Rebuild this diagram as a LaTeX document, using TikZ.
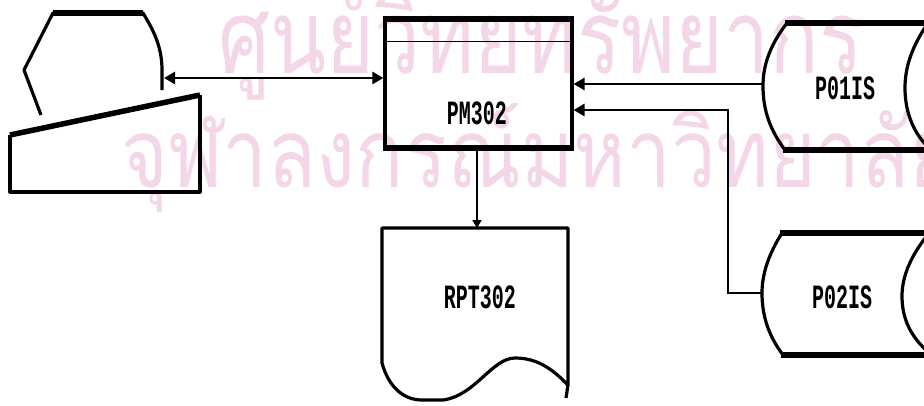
\documentclass[tikz,border=0pt]{standalone}
\usepackage{fontspec}
\newfontfamily\thaifont[Script=Thai]{Loma}
\newfontfamily\dotfont{Liberation Mono}
\usetikzlibrary{arrows.meta}
\definecolor{wm}{RGB}{243,214,232}
\tikzset{
  conn/.style={line width=2.8pt},
  thinconn/.style={line width=1.8pt},
  tip/.tip={Triangle[length=11pt,width=12pt]},
  arr/.style={-tip},
  arrsmall/.style={-{Triangle[length=8pt,width=9pt]}},
  shp/.style={line width=3.2pt, line join=round},
  heavy/.style={line width=5.5pt},
  lbl/.style={font=\dotfont\bfseries\fontsize{20}{20}\selectfont, inner sep=0},
  wmtext/.style={text=wm, inner sep=0, anchor=base west}
}
\begin{document}
\begin{tikzpicture}[x=1pt,y=-1pt]
\useasboundingbox (0,0) rectangle (924,405);
\clip (0,0) rectangle (924,405);
% watermark
\node[wmtext] (wm1) at (218,73) {\scalebox{1}[1.25]{\resizebox{645pt}{!}{\thaifont ศูนย์วิทยทรัพยากร}}};
\node[wmtext] (wm2) at (121,187) {\scalebox{1}[1.2]{\resizebox{835pt}{!}{\thaifont จุฬาลงกรณ์มหาวิทยาลัย}}};
% terminal display
\draw[shp] (41,115) -- (24,70) -- (53,13) -- (143,13) .. controls (152,28) and (162,45) .. (162,70) -- (162,90);
\draw[heavy] (53,13) -- (143,13);
% keyboard
\draw[shp] (200,95) -- (200,192) -- (10,192) -- (10,135);
\draw[heavy] (10,135) -- (200,95);
% program box
\node[draw, line width=3.2pt, minimum width=187pt, minimum height=127pt, inner sep=0] (pm) at (478.5,83.5) {};
\draw[heavy] (pm.north west) -- (pm.north east);
\draw[heavy] (pm.south west) -- (pm.south east);
\draw[line width=1.8pt] (pm.north west) ++(0,23) -- ++(187,0);
\node[lbl] (pmtext) at (477,113) {\scalebox{1}[1.7]{PM302}};
% report document
\draw[shp] (568,385) -- (568,228) -- (382,228) -- (382,363) .. controls (388,385) and (402,400) .. (422,400) -- (443,400) .. controls (475,396) and (492,358) .. (515,358) .. controls (540,358) and (555,372) .. (568,385) -- (566,398);
\coordinate (rpttop) at (477,228);
\node[lbl] (rpt) at (480,297) {\scalebox{1}[1.7]{RPT302}};
% database P01IS
\draw[shp] (787,23) .. controls (770,45) and (763,65) .. (763,86) .. controls (763,110) and (770,130) .. (785,150);
\draw[heavy] (785,23) -- (930,23);
\draw[heavy] (783,150) -- (930,150);
\draw[shp] (926,26) .. controls (910,50) and (905,70) .. (905,88) .. controls (905,110) and (912,130) .. (926,145);
\node[lbl] (p1) at (845,88) {\scalebox{1}[1.7]{P01IS}};
% database P02IS
\draw[shp] (782,233) .. controls (768,255) and (762,275) .. (762,293) .. controls (762,315) and (768,335) .. (783,355);
\draw[heavy] (780,233) -- (930,233);
\draw[heavy] (781,355) -- (930,355);
\draw[shp] (926,237) .. controls (908,260) and (902,280) .. (902,296) .. controls (902,318) and (910,335) .. (926,350);
\node[lbl] (p2) at (842,297) {\scalebox{1}[1.7]{P02IS}};
% connector end points
\coordinate (dispR) at (164,78);
\coordinate (p1L) at (763,84);
\coordinate (p2L) at (762,293);
\coordinate (j2) at (728,110);
% connectors
\draw[conn, tip-tip] (dispR) -- (pm.west |- dispR);
\draw[conn, arr] (p1L) -- (pm.east |- p1L);
\draw[conn, arr] (p2L) -| (j2) -- (pm.east |- j2);
\draw[thinconn, arrsmall] (pm.south -| rpttop) -- (rpttop);
\end{tikzpicture}
\end{document}
